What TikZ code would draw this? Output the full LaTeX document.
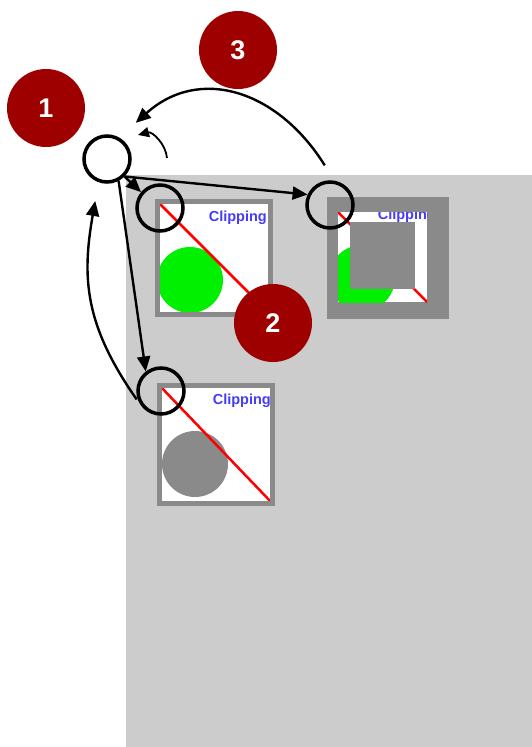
\documentclass[tikz,border=0pt]{standalone}
\usepackage{fontspec}
\setmainfont{Liberation Sans}
\usepackage{tikz}
\usetikzlibrary{arrows.meta, positioning}
\usepackage{xcolor}
\definecolor{badgered}{RGB}{158,0,0}
\definecolor{framegray}{RGB}{138,138,138}
\definecolor{bggray}{RGB}{204,204,204}
\definecolor{cliptext}{RGB}{70,60,250}
\definecolor{ballgreen}{RGB}{0,240,0}

\begin{document}
\begin{tikzpicture}[x=1pt,y=1pt,
    ring/.style={circle,draw=black,line width=3.5pt,minimum size=46pt,inner sep=0pt},
    badge/.style={circle,fill=badgered,minimum size=78pt,inner sep=0pt,text=white,font=\bfseries\fontsize{27}{27}\selectfont},
    arr/.style={line width=2.4pt,-{Triangle[length=15pt,width=13pt]}},
    cliplabel/.style={text=cliptext,font=\bfseries\fontsize{14.5}{14.5}\selectfont,inner sep=0pt}]

\useasboundingbox (0,0) rectangle (532,-747);

% Gray canvas
\fill[bggray] (126,-175) rectangle (532,-747);

% Panel 1 (plain)
\fill[white] (157.5,-201.5) rectangle (270.5,-314.5);
\begin{scope}
  \clip (157.5,-201.5) rectangle (270.5,-314.5);
  \fill[ballgreen] (190,-280) circle (33);
  \draw[red,line width=2.5pt] (157.5,-201.5) -- (270.5,-314.5);
\end{scope}
\node[cliplabel,anchor=base east] (lab1) at (267,-221) {Clipping};
\draw[framegray,line width=5pt] (157.5,-201.5) rectangle (270.5,-314.5);

% Panel 2 (clipped)
\fill[framegray] (327,-197) rectangle (449,-319);
\fill[white] (338,-212) rectangle (427,-302);
\begin{scope}
  \clip (338,-212) rectangle (427,-302);
  \fill[ballgreen] (362,-278) circle (33);
  \draw[red,line width=2.5pt] (338,-212) -- (427,-302);
  \node[cliplabel,anchor=base east] (lab2) at (436,-219) {Clipping};
\end{scope}
\fill[framegray] (350,-222) rectangle (415,-289);

% Panel 3 (gray ball)
\fill[white] (159.5,-385.5) rectangle (272.5,-503.5);
\begin{scope}
  \clip (159.5,-385.5) rectangle (272.5,-503.5);
  \fill[framegray] (195,-464) circle (33);
  \draw[red,line width=2.5pt] (159.5,-385.5) -- (272.5,-503.5);
\end{scope}
\node[cliplabel,anchor=base east] (lab3) at (271,-404) {Clipping};
\draw[framegray,line width=5pt] (159.5,-385.5) rectangle (272.5,-503.5);

% Rings
\node[ring] (org) at (107,-159) {};
\node[ring] (c1) at (160,-208) {};
\node[ring] (c2) at (330,-205) {};
\node[ring] (c3) at (161,-391) {};

% Numbered badges
\node[badge] (b1) at (46,-108) {1};
\node[badge] (b2) at (273,-323) {2};
\node[badge] (b3) at (238,-50) {3};

% Arrows
\draw[arr] (org.south east) -- (c1.140);
\draw[arr] (org.south east) -- (c2.155);
\draw[arr] (org.-62) -- (c3.128);
\draw[arr,shorten <=7pt,shorten >=19pt] (c3.215) to[out=125,in=-100,looseness=1.1] (org.250);
\draw[arr,shorten <=18pt,shorten >=22pt] (c2.80) to[out=122,in=42,looseness=1.25] (org.60);

% Small turn arrow
\coordinate (spinA) at (167,-158);
\coordinate (spinB) at (138,-135);
\draw[arr,line width=1.8pt,-{Triangle[length=11pt,width=10pt]}] (spinA) to[out=95,in=15] (spinB);

\end{tikzpicture}
\end{document}
